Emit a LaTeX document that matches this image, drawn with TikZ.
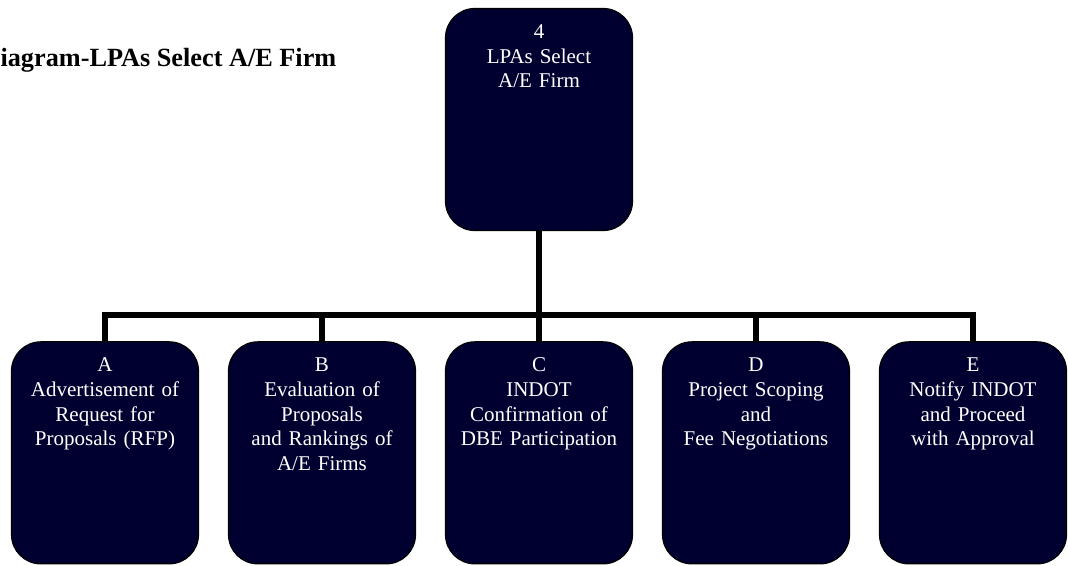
\documentclass[tikz,border=0pt]{standalone}
\usepackage{fontspec}
\setmainfont{Liberation Serif}
\usepackage{xcolor}
\usetikzlibrary{positioning, calc}
\definecolor{navy}{RGB}{0,0,48}

\begin{document}
\begin{tikzpicture}[x=0.75pt, y=-0.75pt, node distance={162.75pt}, thick,
    task/.style = {draw, line width=0.9pt, fill=navy, rounded corners=22pt, text=white, align=center,
        text width=135pt, minimum width=140.25pt, inner sep=0pt, text height=22.5pt, text depth=144pt,
        font=\fontsize{15.75}{18.5}\selectfont},
    link/.style = {line width=4.5pt}]
                        \useasboundingbox (0,0) rectangle (1068,565);
                        \node[anchor=base west, inner sep=0pt, font=\fontsize{19.7}{22}\selectfont\bfseries] (title) at (0,66) {iagram-LPAs Select A/E Firm};
                        \node[task] (top) at (539,119.5) {4\\LPAs Select\\A/E Firm};
                        \node[task] (C) [node distance=250pt, below of=top] {C\\INDOT\\Confirmation of\\DBE Participation};
                        \node[task] (B) [left of=C] {B\\Evaluation of\\Proposals\\and Rankings of\\A/E Firms};
                        \node[task] (A) [left of=B] {A\\Advertisement of\\Request for\\Proposals (RFP)};
                        \node[task] (D) [right of=C] {D\\Project Scoping\\and\\Fee Negotiations};
                        \node[task] (E) [right of=D] {E\\Notify INDOT\\and Proceed\\with Approval};
                        \coordinate (bus) at ($(top.south)!0.766!(C.north)$);
                        \draw[link] (top.south) -- (C.north);
                        \draw[link] (A.north) |- (bus) -| (E.north);
                        \draw[link] (B.north) -- (B.north |- bus);
                        \draw[link] (D.north) -- (D.north |- bus);
                    \end{tikzpicture}
\end{document}
